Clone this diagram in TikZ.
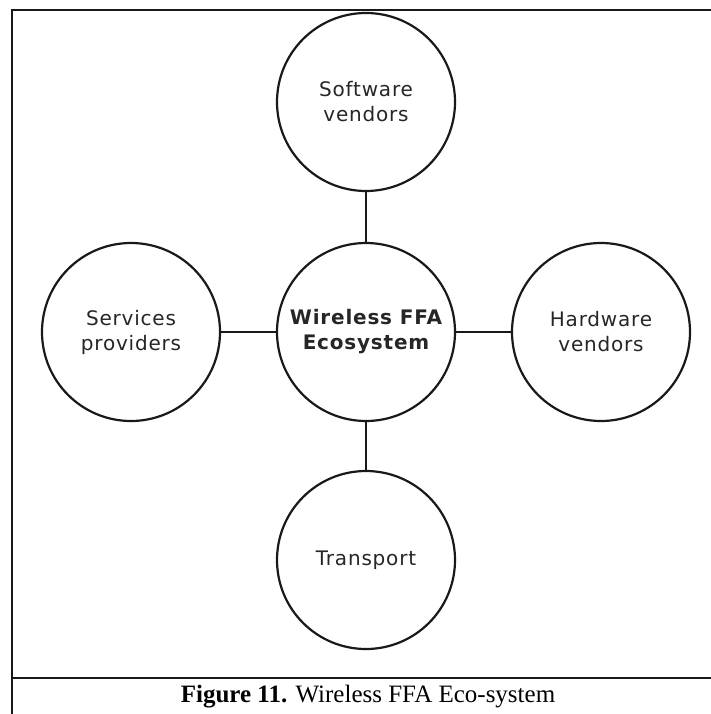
\documentclass[tikz,border=0pt]{standalone}
\usepackage{fontspec}
\setmainfont{Liberation Serif}
\newfontfamily\circfont[LetterSpace=4]{DejaVu Sans}
\begin{document}
\begin{tikzpicture}[x=1pt,y=-1pt,
  ring/.style={circle,draw=black!90,line width=2.2pt,minimum size=178pt,inner sep=0pt,
    align=center,font=\circfont\fontsize{20}{25}\selectfont,text=black!85},
  link/.style={draw=black!90,line width=2pt},
  framel/.style={draw=black!90,line width=2pt}]
\useasboundingbox (0,0) rectangle (711,714);
% frame
\draw[framel] (12,730) -- (12,10) -- (730,10);
\draw[framel] (12,678) -- (730,678);
% circles
\node[ring] (c) at (366,332) {\bfseries Wireless FFA\\\bfseries Ecosystem};
\node[ring] (t) at (366,102) {Software\\vendors};
\node[ring] (l) at (131,332) {Services\\providers};
\node[ring] (r) at (601,332) {Hardware\\vendors};
\node[ring] (b) at (366,560) {Transport};
% connectors
\draw[link] (t) -- (c);
\draw[link] (l) -- (c);
\draw[link] (c) -- (r);
\draw[link] (c) -- (b);
% caption
\node[font=\fontsize{25}{30}\selectfont,inner sep=0pt] (cap) at (368,697) {\textbf{Figure 11.} Wireless FFA Eco-system};
\end{tikzpicture}
\end{document}
